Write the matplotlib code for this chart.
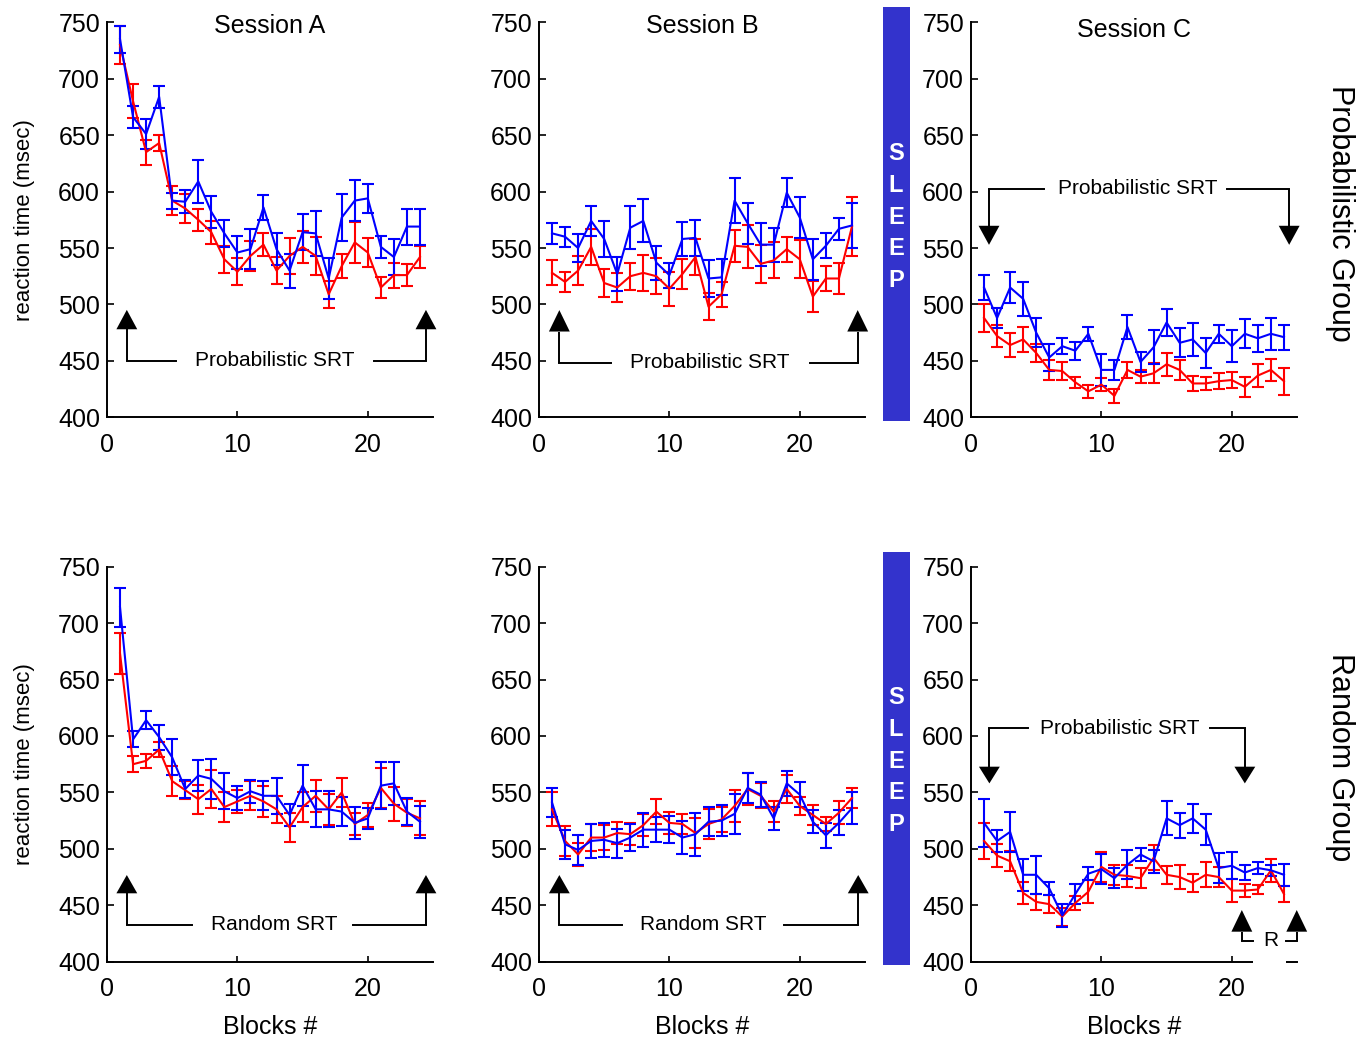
import numpy as np
import matplotlib.pyplot as plt
from matplotlib.patches import Rectangle

plt.rcParams['font.family'] = ['Liberation Sans', 'DejaVu Sans']

blocks = np.arange(1, 25)
sessions = ['Session A', 'Session B', 'Session C']

# Probabilistic group -- session A
probA_red = [730, 680, 635, 643, 592, 585, 575, 564, 540, 529, 543, 553, 530, 543, 551, 543,
             509, 534, 555, 546, 515, 526, 526, 542]
probA_red_err = [17, 15, 11, 7, 13, 13, 10, 10, 12, 12, 13, 10, 12, 16, 14, 17, 12, 11, 18, 13, 9, 11, 10, 10]
probA_blue = [735, 666, 651, 684, 592, 591, 609, 582, 563, 546, 549, 586, 549, 530, 564, 563,
              523, 577, 592, 594, 551, 542, 569, 569]
probA_blue_err = [12, 10, 13, 10, 7, 10, 19, 14, 12, 15, 18, 11, 14, 15, 16, 20, 18, 21, 18, 13, 10, 16, 16, 16]

# Probabilistic group -- session B
probB_red = [528, 520, 530, 551, 519, 515, 525, 528, 525, 514, 527, 542, 498, 509, 552, 551,
             536, 539, 549, 540, 507, 523, 523, 569]
probB_red_err = [11, 9, 13, 16, 12, 13, 12, 16, 16, 15, 13, 16, 12, 11, 14, 19, 17, 16, 11, 17, 14, 11, 14, 26]
probB_blue = [563, 560, 550, 574, 558, 527, 568, 574, 537, 526, 558, 559, 523, 524, 592, 572,
              553, 553, 599, 577, 540, 552, 567, 570]
probB_blue_err = [9, 9, 12, 13, 16, 15, 19, 19, 15, 11, 15, 16, 16, 16, 20, 18, 19, 15, 13, 18, 18, 11, 10, 20]

# Probabilistic group -- session C
probC_red = [488, 472, 464, 469, 457, 442, 441, 431, 423, 429, 419, 442, 436, 439, 447, 442,
             430, 430, 432, 433, 427, 437, 442, 432]
probC_red_err = [12, 10, 11, 11, 8, 9, 8, 5, 6, 6, 6, 7, 6, 9, 10, 9, 7, 6, 7, 7, 9, 10, 10, 12]
probC_blue = [515, 488, 515, 505, 475, 453, 463, 459, 474, 442, 442, 480, 449, 462, 484, 466,
              469, 457, 474, 463, 474, 470, 474, 471]
probC_blue_err = [11, 9, 14, 15, 13, 12, 7, 8, 6, 14, 9, 11, 9, 15, 12, 13, 15, 13, 8, 14, 13, 12, 14, 11]

# Random group -- session A
randA_red = [673, 575, 578, 588, 560, 552, 544, 553, 537, 542, 547, 542, 535, 519, 537, 547,
             535, 550, 522, 530, 554, 540, 532, 527]
randA_red_err = [18, 7, 6, 7, 13, 8, 13, 17, 13, 10, 13, 14, 12, 13, 13, 14, 14, 13, 10, 11, 18, 15, 12, 15]
randA_blue = [714, 597, 614, 599, 581, 553, 565, 562, 551, 545, 551, 547, 547, 530, 556, 535,
              535, 533, 523, 527, 556, 558, 533, 524]
randA_blue_err = [17, 7, 8, 11, 16, 8, 14, 18, 16, 11, 10, 13, 16, 10, 18, 16, 16, 13, 14, 9, 21, 19, 12, 14]

# Random group -- session B
randB_red = [535, 507, 495, 510, 510, 514, 513, 521, 533, 523, 522, 514, 522, 526, 538, 553,
             547, 533, 553, 538, 530, 522, 532, 545]
randB_red_err = [15, 13, 10, 12, 11, 10, 10, 10, 11, 10, 9, 13, 13, 11, 14, 14, 11, 9, 12, 8, 9, 6, 10, 9]
randB_blue = [541, 504, 499, 507, 508, 505, 510, 517, 517, 517, 510, 513, 524, 525, 531, 554,
              548, 527, 558, 548, 524, 512, 523, 536]
randB_blue_err = [13, 13, 13, 15, 15, 13, 12, 15, 11, 12, 15, 19, 13, 14, 18, 13, 11, 10, 11, 11, 10, 11, 11, 14]

# Random group -- session C
randC_red = [507, 494, 489, 461, 453, 451, 440, 452, 462, 484, 477, 476, 474, 492, 477, 475,
             470, 477, 475, 463, 463, 464, 481, 460]
randC_red_err = [16, 10, 9, 10, 7, 8, 8, 6, 10, 13, 9, 10, 9, 11, 8, 11, 8, 11, 9, 10, 6, 4, 10, 7]
randC_blue = [523, 507, 515, 477, 477, 465, 441, 460, 478, 482, 474, 486, 495, 489, 527, 521,
              527, 517, 483, 485, 479, 483, 481, 477]
randC_blue_err = [21, 10, 18, 14, 17, 6, 10, 9, 6, 13, 9, 13, 6, 10, 15, 11, 13, 14, 13, 12, 7, 5, 5, 10]

rows = [
    [(probA_red, probA_red_err, probA_blue, probA_blue_err),
     (probB_red, probB_red_err, probB_blue, probB_blue_err),
     (probC_red, probC_red_err, probC_blue, probC_blue_err)],
    [(randA_red, randA_red_err, randA_blue, randA_blue_err),
     (randB_red, randB_red_err, randB_blue, randB_blue_err),
     (randC_red, randC_red_err, randC_blue, randC_blue_err)],
]

W, H = 1362, 1044
fig = plt.figure(figsize=(W / 100, H / 100), dpi=100)

lefts = [107, 539, 971]
bottoms = [417.3, 961.7]
aw, ah = 326, 395


def arrow(ax, x, y_line, y_base, y_tip, hw=0.8):
    ax.plot([x, x], [y_line, y_base], color='black', lw=1.4, solid_capstyle='butt', clip_on=False)
    ax.fill([x - hw, x + hw, x], [y_base, y_base, y_tip], color='black', lw=0, clip_on=False)


def bracket(ax, x1, x2, y_line, y_base, y_tip, gap_l, gap_r, label, tx):
    arrow(ax, x1, y_line, y_base, y_tip)
    arrow(ax, x2, y_line, y_base, y_tip)
    ax.plot([x1, gap_l], [y_line, y_line], color='black', lw=1.4, clip_on=False)
    ax.plot([gap_r, x2], [y_line, y_line], color='black', lw=1.4, clip_on=False)
    ax.text(tx, y_line, label, ha='center', va='center', fontsize=15)


axes = []
for r in range(2):
    for c in range(3):
        ax = fig.add_axes([lefts[c] / W, 1 - bottoms[r] / H, aw / W, ah / H])
        red, red_err, blue, blue_err = rows[r][c]
        ax.errorbar(blocks, red, yerr=red_err, color='#ff0000', lw=1.5, elinewidth=1.5,
                    capsize=4, capthick=1.5)
        ax.errorbar(blocks, blue, yerr=blue_err, color='#0000ff', lw=1.5, elinewidth=1.5,
                    capsize=4, capthick=1.5)
        ax.set_xlim(0, 25)
        ax.set_ylim(400, 750)
        ax.set_xticks([0, 10, 20])
        ax.set_yticks(range(400, 751, 50))
        for s in ['top', 'right']:
            ax.spines[s].set_visible(False)
        for s in ['left', 'bottom']:
            ax.spines[s].set_linewidth(1.4)
        ax.tick_params(axis='both', direction='in', labelsize=18, width=1.2)
        ax.tick_params(axis='y', length=5, pad=5)
        ax.tick_params(axis='x', length=4, pad=11)
        if r == 0:
            ty = 0.99 if c < 2 else 0.98
            ax.text(0.5, ty, sessions[c], transform=ax.transAxes, ha='center', va='center',
                    fontsize=18)
        else:
            ax.text(0.5, -0.165, 'Blocks #', transform=ax.transAxes, ha='center', va='center',
                    fontsize=18)
        if c == 0:
            ax.text(-0.252, 0.5, 'reaction time (msec)', transform=ax.transAxes, rotation=90,
                    ha='center', va='center', fontsize=16)
        axes.append(ax)

# annotations
bracket(axes[0], 1.52, 24.46, 450.2, 478, 495.2, 5.3, 20.5, 'Probabilistic SRT', 12.9)
bracket(axes[1], 1.56, 24.44, 448.4, 476, 495, 5.5, 20.8, 'Probabilistic SRT', 13.1)
bracket(axes[2], 1.38, 24.4, 602.5, 569.7, 552.8, 5.56, 19.67, 'Probabilistic SRT', 12.8)
bracket(axes[3], 1.52, 24.46, 432.6, 460.6, 476.8, 6.5, 18.9, 'Random SRT', 12.8)
bracket(axes[4], 1.56, 24.48, 432.6, 460.6, 476.8, 6.4, 18.8, 'Random SRT', 12.6)
bracket(axes[5], 1.41, 21.0, 606.8, 572.8, 558, 4.4, 18.3, 'Probabilistic SRT', 11.4)
axC = axes[5]
axC.add_patch(Rectangle((21.6, 395.5), 2.55, 9, facecolor='white', edgecolor='none',
                        zorder=10, clip_on=False))
for xa in [20.77, 24.98]:
    arrow(axC, xa, 418.3, 426.6, 445.8)
axC.plot([20.77, 21.6], [418.3, 418.3], color='black', lw=1.4, clip_on=False)
axC.plot([24.15, 24.98], [418.3, 418.3], color='black', lw=1.4, clip_on=False)
axC.text(23.0, 418.5, 'R', ha='center', va='center', fontsize=15, zorder=11)

# sleep bars
for top, bot, cy in [(7.3, 420.7, 217), (552, 965, 761)]:
    fig.add_artist(Rectangle((882.5 / W, 1 - bot / H), 27.5 / W, (bot - top) / H,
                             facecolor='#3333cc', edgecolor='none', transform=fig.transFigure))
    for k, ch in enumerate('SLEEP'):
        fig.text(896 / W, 1 - (cy + (k - 2) * 31.7) / H, ch, color='white', fontsize=17,
                 fontweight='bold', ha='center', va='center')

fig.text(1340 / W, 1 - 213 / H, 'Probabilistic Group', rotation=270, ha='center', va='center',
         fontsize=22)
fig.text(1340 / W, 1 - 757 / H, 'Random Group', rotation=270, ha='center', va='center',
         fontsize=22)

fig.savefig('out.png', dpi=100)
